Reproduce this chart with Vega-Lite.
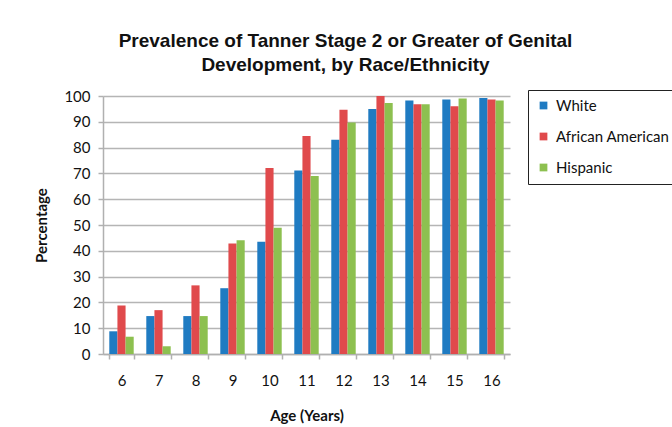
{
  "$schema": "https://vega.github.io/schema/vega-lite/v6.json",
  "width": 407,
  "height": 258,
  "autosize": "none",
  "padding": {"left": 103, "top": 96, "right": 162, "bottom": 73},
  "background": "white",
  "config": {"view": {"stroke": null}},
  "title": {
    "text": ["Prevalence of Tanner Stage 2 or Greater of Genital", "Development, by Race/Ethnicity"],
    "font": "Liberation Sans",
    "fontSize": 19,
    "fontWeight": "bold",
    "color": "#111111",
    "anchor": "middle",
    "dx": 39,
    "offset": 14,
    "lineHeight": 24
  },
  "data": {
    "values": [
      {"age": 6, "group": "White", "pct": 8.8},
      {"age": 6, "group": "African American", "pct": 18.8},
      {"age": 6, "group": "Hispanic", "pct": 6.7},
      {"age": 7, "group": "White", "pct": 14.7},
      {"age": 7, "group": "African American", "pct": 17},
      {"age": 7, "group": "Hispanic", "pct": 3},
      {"age": 8, "group": "White", "pct": 14.7},
      {"age": 8, "group": "African American", "pct": 26.6},
      {"age": 8, "group": "Hispanic", "pct": 14.7},
      {"age": 9, "group": "White", "pct": 25.5},
      {"age": 9, "group": "African American", "pct": 42.8},
      {"age": 9, "group": "Hispanic", "pct": 44.1},
      {"age": 10, "group": "White", "pct": 43.5},
      {"age": 10, "group": "African American", "pct": 72.1},
      {"age": 10, "group": "Hispanic", "pct": 48.9},
      {"age": 11, "group": "White", "pct": 71.1},
      {"age": 11, "group": "African American", "pct": 84.5},
      {"age": 11, "group": "Hispanic", "pct": 69},
      {"age": 12, "group": "White", "pct": 83},
      {"age": 12, "group": "African American", "pct": 94.7},
      {"age": 12, "group": "Hispanic", "pct": 89.7},
      {"age": 13, "group": "White", "pct": 95},
      {"age": 13, "group": "African American", "pct": 100},
      {"age": 13, "group": "Hispanic", "pct": 97.3},
      {"age": 14, "group": "White", "pct": 98.3},
      {"age": 14, "group": "African American", "pct": 96.8},
      {"age": 14, "group": "Hispanic", "pct": 96.8},
      {"age": 15, "group": "White", "pct": 98.6},
      {"age": 15, "group": "African American", "pct": 96},
      {"age": 15, "group": "Hispanic", "pct": 99},
      {"age": 16, "group": "White", "pct": 99.2},
      {"age": 16, "group": "African American", "pct": 98.6},
      {"age": 16, "group": "Hispanic", "pct": 98.3}
    ]
  },
  "mark": {"type": "bar"},
  "encoding": {
    "x": {
      "field": "age",
      "type": "ordinal",
      "scale": {"paddingInner": 0.34, "paddingOuter": 0.17},
      "axis": {
        "title": "Age (Years)",
        "titleFont": "Lato",
        "titleFontSize": 15,
        "titleFontWeight": "bold",
        "titleColor": "#111111",
        "titlePadding": 20,
        "labelAngle": 0,
        "labelFont": "Lato",
        "labelFontSize": 15,
        "labelColor": "#111111",
        "labelPadding": 14,
        "domainColor": "#b0b0b0",
        "domainWidth": 1.5,
        "tickColor": "#b0b0b0",
        "tickWidth": 1.5,
        "tickSize": 5,
        "tickBand": "extent"
      }
    },
    "xOffset": {
      "field": "group",
      "sort": ["White", "African American", "Hispanic"],
      "scale": {"paddingInner": 0}
    },
    "y": {
      "field": "pct",
      "type": "quantitative",
      "scale": {"domain": [0, 100]},
      "axis": {
        "title": "Percentage",
        "titleFont": "Lato",
        "titleFontSize": 15,
        "titleFontWeight": "bold",
        "titleColor": "#111111",
        "titlePadding": 14,
        "values": [0, 10, 20, 30, 40, 50, 60, 70, 80, 90, 100],
        "labelFont": "Lato",
        "labelFontSize": 15,
        "labelColor": "#111111",
        "labelPadding": 8,
        "domainColor": "#b0b0b0",
        "domainWidth": 1.5,
        "tickColor": "#b0b0b0",
        "tickWidth": 1.5,
        "tickSize": 5,
        "grid": true,
        "gridColor": "#b5b5b5",
        "gridWidth": 1.5
      }
    },
    "color": {
      "field": "group",
      "type": "nominal",
      "sort": ["White", "African American", "Hispanic"],
      "scale": {
        "domain": ["White", "African American", "Hispanic"],
        "range": ["#1F7BC2", "#E04A4C", "#8DC050"]
      },
      "legend": {
        "title": null,
        "orient": "none",
        "legendX": 425,
        "legendY": -6,
        "direction": "vertical",
        "symbolType": "square",
        "symbolSize": 60,
        "symbolStrokeWidth": 0,
        "labelFont": "Lato",
        "labelFontSize": 15,
        "labelColor": "#111111",
        "labelOffset": 5,
        "rowPadding": 15,
        "padding": 8,
        "strokeColor": "#222222",
        "fillColor": "white",
        "labelLimit": 200
      }
    }
  }
}
